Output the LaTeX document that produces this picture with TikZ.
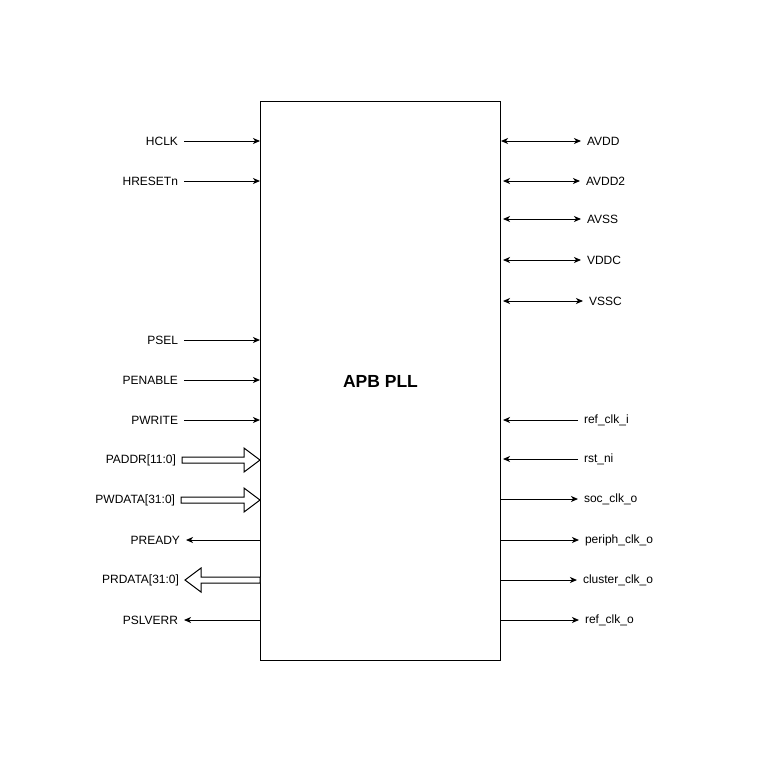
\documentclass[tikz,border=0pt]{standalone}
\usepackage{fontspec}
\setmainfont{Liberation Sans}
\usetikzlibrary{arrows.meta,calc}

\tikzset{
  pin/.style={font=\fontsize{12}{14}\selectfont, inner sep=3pt, outer sep=3pt},
  sig/.style={-{Stealth[length=7pt,width=6pt,inset=2pt]}, line width=1pt},
  bidir/.style={{Stealth[length=7pt,width=6pt,inset=2pt]}-{Stealth[length=7pt,width=6pt,inset=2pt]}, line width=1pt},
  bus/.style={draw=black, fill=white, line width=1pt}
}
% hollow bus arrow from #1 to #2 (horizontal)
\newcommand{\busarrow}[2]{%
  \draw[bus] let \p1=(#1), \p2=(#2), \n1={sign(\x2-\x1)} in
    (\x1,\y1+3pt) -- (\x2-16pt*\n1,\y1+3pt) -- (\x2-16pt*\n1,\y1+12pt)
    -- (\x2,\y1) -- (\x2-16pt*\n1,\y1-12pt) -- (\x2-16pt*\n1,\y1-3pt)
    -- (\x1,\y1-3pt) -- cycle;}

\begin{document}
\begin{tikzpicture}[x=1pt,y=-1pt]
  \useasboundingbox (0,0) rectangle (761,761);
  % the block
  \node[draw, line width=1pt, minimum width=240pt, minimum height=559pt, anchor=north west,
        font=\bfseries\fontsize{17.5}{20}\selectfont] (pll) at (260,101) {APB PLL};
  %inputs on the left
  \node[pin, anchor=east] (hclk) at (184,141) {HCLK};
  \node[pin, anchor=east] (hresetn) at (184,181) {HRESETn};
  \node[pin, anchor=east] (psel) at (184,340) {PSEL};
  \node[pin, anchor=east] (penable) at (184,380) {PENABLE};
  \node[pin, anchor=east] (pwrite) at (184,420) {PWRITE};
  \node[pin, anchor=east] (paddr) at (182,460) {PADDR[11:0]};
  \node[pin, anchor=east] (pwdata) at (181,500) {PWDATA[31:0]};
  %outputs on the left
  \node[pin, anchor=east] (pready) at (186,540) {PREADY};
  \node[pin, anchor=east] (prdata) at (185,580) {PRDATA[31:0]};
  \node[pin, anchor=east] (pslverr) at (184,620) {PSLVERR};
  %supplies on the right
  \node[pin, anchor=west] (avdd) at (581,141) {AVDD};
  \node[pin, anchor=west] (avdd2) at (580,181) {AVDD2};
  \node[pin, anchor=west] (avss) at (581,219) {AVSS};
  \node[pin, anchor=west] (vddc) at (581,260) {VDDC};
  \node[pin, anchor=west] (vssc) at (583,301) {VSSC};
  %clocks on the right
  \node[pin, anchor=west] (refclki) at (578,420) {ref\_clk\_i};
  \node[pin, anchor=west] (rstni) at (578,459) {rst\_ni};
  \node[pin, anchor=west] (socclk) at (578,499) {soc\_clk\_o};
  \node[pin, anchor=west] (periphclk) at (579,540) {periph\_clk\_o};
  \node[pin, anchor=west] (clusterclk) at (577,580) {cluster\_clk\_o};
  \node[pin, anchor=west] (refclko) at (579,620) {ref\_clk\_o};

  %left side lines
  \draw[sig] (hclk) -- (pll.west |- hclk);
  \draw[sig] (hresetn) -- (pll.west |- hresetn);
  \draw[sig] (psel) -- (pll.west |- psel);
  \draw[sig] (penable) -- (pll.west |- penable);
  \draw[sig] (pwrite) -- (pll.west |- pwrite);
  \busarrow{paddr.east}{pll.west |- paddr}
  \busarrow{pwdata.east}{pll.west |- pwdata}
  \draw[sig] (pll.west |- pready) -- (pready);
  \busarrow{pll.west |- prdata}{prdata.east}
  \draw[sig] (pll.west |- pslverr) -- (pslverr);
  %right side lines
  \draw[bidir] (pll.east |- avdd) -- (avdd);
  \draw[bidir] ([xshift=2pt]pll.east |- avdd2) -- (avdd2);
  \draw[bidir] ([xshift=2pt]pll.east |- avss) -- (avss);
  \draw[bidir] ([xshift=2pt]pll.east |- vddc) -- (vddc);
  \draw[bidir] ([xshift=2pt]pll.east |- vssc) -- (vssc);
  \draw[sig] (refclki) -- ([xshift=2pt]pll.east |- refclki);
  \draw[sig] (rstni) -- ([xshift=2pt]pll.east |- rstni);
  \draw[sig] (pll.east |- socclk) -- (socclk);
  \draw[sig] (pll.east |- periphclk) -- (periphclk);
  \draw[sig] (pll.east |- clusterclk) -- (clusterclk);
  \draw[sig] (pll.east |- refclko) -- (refclko);
\end{tikzpicture}
\end{document}
